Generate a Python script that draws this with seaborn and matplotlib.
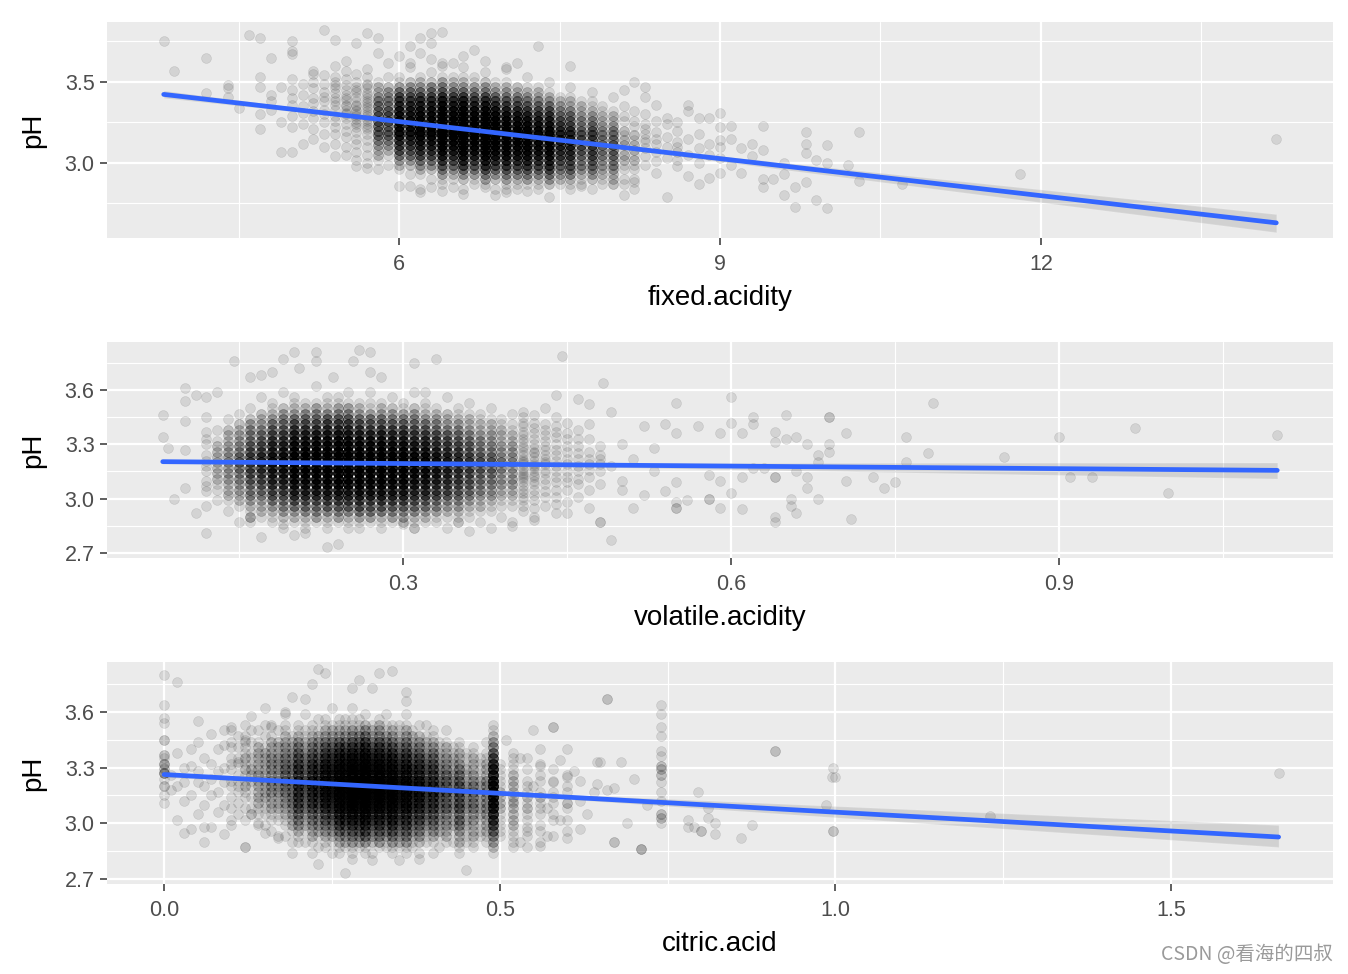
import numpy as np
import pandas as pd
import matplotlib
matplotlib.use('Agg')
import matplotlib.pyplot as plt
import seaborn as sns

# pH levels used for the binned (dense) part of every panel, high to low
ph_levels = [3.62, 3.59, 3.56, 3.53, 3.50, 3.47, 3.44, 3.41, 3.38, 3.35, 3.32, 3.29, 3.26, 3.23,
             3.20, 3.17, 3.14, 3.11, 3.08, 3.05, 3.02, 2.99, 2.96, 2.93, 2.90, 2.87, 2.84]

# ---- fixed.acidity vs pH: counts per (fixed.acidity, pH level) in the dense cloud ----
fa_cols = [5.8, 5.9, 6.0, 6.1, 6.2, 6.3, 6.4, 6.5, 6.6, 6.7, 6.8, 6.9, 7.0,
           7.1, 7.2, 7.3, 7.4, 7.5, 7.6, 7.7, 7.8, 7.9, 8.0, 8.1, 8.2]
fa_counts = [
    [0, 0, 0, 0, 1, 2, 2, 3, 4, 5, 5, 6, 6, 6, 5, 5, 4, 3, 2, 2, 1, 0, 0, 0, 0, 0, 0],
    [0, 0, 0, 1, 0, 2, 3, 3, 4, 4, 6, 6, 6, 5, 5, 5, 4, 3, 2, 1, 0, 1, 0, 0, 0, 0, 0],
    [0, 0, 0, 1, 1, 3, 5, 7, 8, 10, 12, 13, 14, 14, 13, 12, 10, 8, 7, 5, 3, 2, 1, 0, 0, 0, 0],
    [0, 1, 0, 0, 2, 3, 5, 6, 8, 10, 11, 12, 13, 13, 12, 11, 10, 8, 6, 5, 3, 2, 0, 1, 0, 0, 0],
    [0, 0, 0, 1, 2, 3, 5, 7, 9, 11, 13, 15, 16, 16, 16, 15, 13, 11, 9, 7, 5, 3, 2, 1, 0, 0, 1],
    [0, 0, 1, 0, 2, 4, 5, 7, 9, 11, 13, 14, 16, 17, 16, 15, 13, 11, 9, 7, 5, 3, 2, 0, 1, 0, 0],
    [1, 0, 0, 1, 3, 4, 6, 9, 12, 15, 18, 21, 24, 25, 25, 24, 21, 18, 15, 12, 9, 6, 4, 3, 1, 1, 0],
    [0, 0, 0, 1, 2, 3, 5, 7, 9, 12, 14, 16, 18, 19, 19, 18, 16, 14, 12, 9, 7, 5, 3, 2, 1, 0, 0],
    [0, 1, 0, 1, 2, 3, 5, 8, 11, 14, 17, 21, 23, 25, 26, 25, 23, 21, 17, 14, 11, 8, 5, 3, 2, 0, 1],
    [0, 0, 0, 1, 1, 3, 4, 6, 8, 11, 14, 16, 18, 20, 20, 20, 18, 16, 14, 11, 8, 6, 4, 3, 1, 1, 0],
    [0, 0, 1, 0, 2, 3, 4, 7, 9, 13, 16, 20, 23, 25, 27, 27, 25, 23, 20, 16, 13, 9, 7, 4, 3, 1, 0],
    [0, 0, 0, 0, 1, 2, 3, 5, 7, 10, 13, 15, 18, 20, 21, 21, 20, 18, 15, 13, 10, 7, 5, 3, 2, 0, 1],
    [0, 1, 0, 0, 1, 2, 3, 4, 6, 8, 11, 14, 16, 18, 20, 20, 20, 18, 16, 14, 11, 8, 6, 4, 3, 1, 1],
    [0, 0, 0, 0, 0, 2, 2, 4, 5, 7, 10, 12, 14, 16, 18, 18, 18, 16, 14, 12, 10, 7, 5, 4, 2, 1, 1],
    [0, 0, 0, 1, 0, 1, 2, 3, 4, 6, 8, 11, 13, 15, 17, 17, 17, 17, 15, 13, 11, 8, 6, 4, 3, 1, 0],
    [0, 0, 0, 0, 0, 1, 2, 2, 4, 5, 7, 9, 11, 13, 14, 15, 15, 14, 13, 11, 9, 7, 5, 4, 2, 1, 1],
    [0, 0, 0, 0, 1, 0, 1, 2, 3, 5, 7, 9, 11, 13, 15, 16, 17, 16, 15, 13, 11, 9, 7, 5, 3, 2, 0],
    [0, 0, 0, 0, 0, 0, 0, 1, 2, 3, 4, 5, 7, 8, 9, 10, 10, 10, 9, 8, 7, 5, 4, 3, 2, 1, 0],
    [0, 0, 0, 0, 0, 1, 0, 1, 2, 2, 4, 5, 6, 7, 9, 9, 10, 10, 9, 9, 7, 6, 5, 4, 2, 1, 1],
    [0, 0, 0, 0, 0, 0, 0, 0, 1, 2, 2, 3, 4, 4, 5, 6, 6, 6, 6, 5, 4, 4, 3, 2, 1, 1, 0],
    [0, 0, 0, 0, 0, 0, 1, 0, 1, 1, 2, 3, 4, 5, 6, 7, 7, 7, 7, 7, 6, 5, 4, 3, 2, 0, 1],
    [0, 0, 0, 0, 0, 0, 0, 0, 0, 1, 1, 2, 2, 3, 3, 4, 4, 4, 4, 4, 3, 3, 2, 2, 1, 1, 0],
    [0, 0, 0, 0, 0, 0, 0, 1, 0, 0, 1, 2, 2, 3, 4, 4, 5, 5, 5, 5, 4, 4, 3, 2, 2, 1, 0],
    [0, 0, 0, 0, 0, 0, 0, 0, 0, 1, 0, 1, 1, 0, 2, 1, 2, 2, 1, 2, 2, 1, 1, 0, 1, 1, 0],
    [0, 0, 0, 0, 0, 0, 0, 0, 0, 0, 1, 0, 1, 1, 0, 2, 1, 2, 2, 1, 2, 1, 1, 0, 1, 0, 1],
]
# single wines around the cloud
fa_single_x = [
    3.8, 3.9, 4.2, 4.2, 4.4, 4.4, 4.4, 4.5, 4.6, 4.7, 4.7, 4.7, 4.8, 4.7, 4.7,
    4.8, 4.8, 4.8, 4.9, 4.9, 4.9, 5.0, 5.0, 5.0, 5.0, 5.3, 5.4, 5.5, 5.4, 5.6,
    5.7, 5.8, 6.2, 6.3, 6.4, 6.3, 7.3, 5.6, 5.7, 5.8, 6.0, 6.1, 6.3, 6.5, 6.8,
    6.9, 7.4, 7.6, 8.2, 8.3, 8.7, 9.0, 8.8, 8.6, 8.5, 9.1, 9.4, 9.8, 9.8, 10.0,
    10.3, 9.8, 9.9, 10.0, 10.2, 10.3, 10.7, 9.7, 9.8, 9.6, 9.7, 9.9, 10.0, 9.4, 9.4,
    9.5, 9.6, 9.6, 9.2, 9.2, 9.0, 8.9, 8.8, 8.5, 8.1, 11.8, 14.2,
    5.9, 6.0, 6.1, 6.2, 6.3, 6.4, 6.5, 6.6, 6.8, 7.0, 7.1, 6.7, 6.1, 5.8,
    6.2, 6.4, 6.6, 7.0, 7.2, 7.7, 8.0, 8.1, 8.3, 8.4, 8.7, 8.9, 9.0, 8.6,
    8.9, 9.1, 9.3, 9.1, 8.7, 8.4, 8.2, 9.3, 9.4, 9.0,
    5.0, 5.0, 5.0, 5.0, 5.0, 5.0,
    5.1, 5.1, 5.1, 5.1, 5.1, 5.1,
    5.2, 5.2, 5.2, 5.2, 5.2, 5.2, 5.2, 5.2, 5.2, 5.2,
    5.3, 5.3, 5.3, 5.3, 5.3, 5.3, 5.3, 5.3, 5.3, 5.3,
    5.4, 5.4, 5.4, 5.4, 5.4, 5.4, 5.4, 5.4, 5.4, 5.4, 5.4, 5.4, 5.4, 5.4, 5.4,
    5.5, 5.5, 5.5, 5.5, 5.5, 5.5, 5.5, 5.5, 5.5, 5.5, 5.5, 5.5, 5.5, 5.5, 5.5, 5.5, 5.5, 5.5,
    5.6, 5.6, 5.6, 5.6, 5.6, 5.6, 5.6, 5.6, 5.6, 5.6, 5.6, 5.6, 5.6, 5.6, 5.6, 5.6, 5.6, 5.6,
    5.6, 5.6, 5.6, 5.6,
    5.7, 5.7, 5.7, 5.7, 5.7, 5.7, 5.7, 5.7, 5.7, 5.7, 5.7, 5.7, 5.7, 5.7, 5.7, 5.7, 5.7, 5.7,
    5.7, 5.7, 5.7, 5.7, 5.7, 5.7, 5.7,
    8.3, 8.3, 8.3, 8.3, 8.3, 8.3, 8.3, 8.3, 8.3,
    8.4, 8.4, 8.4, 8.4, 8.4, 8.4,
    8.5, 8.5, 8.5, 8.5,
    8.6, 8.6, 8.6, 8.6, 8.6,
    8.7, 8.7,
    8.8, 8.8, 8.8,
    8.9,
    9.0, 9.0,
]
fa_single_ph = [
    3.75, 3.57, 3.65, 3.43, 3.48, 3.46, 3.41, 3.34, 3.79, 3.77, 3.53, 3.47, 3.65, 3.21, 3.30,
    3.42, 3.38, 3.33, 3.47, 3.25, 3.07, 3.07, 3.75, 3.69, 3.67, 3.82, 3.76, 3.63, 3.04, 3.74,
    3.80, 3.77, 3.77, 3.80, 3.81, 3.74, 3.72, 2.98, 2.97, 2.96, 2.86, 2.86, 2.85, 2.85, 2.85,
    2.80, 2.79, 3.60, 3.50, 3.47, 3.36, 3.31, 3.28, 3.25, 3.28, 3.23, 3.23, 3.19, 3.12, 3.11,
    3.19, 3.06, 3.02, 3.00, 2.99, 2.89, 2.87, 2.85, 2.88, 2.80, 2.73, 2.77, 2.72, 2.90, 2.85,
    2.90, 3.00, 2.93, 3.09, 2.94, 2.94, 2.91, 2.87, 2.79, 2.80, 2.93, 3.15,
    3.62, 3.66, 3.62, 3.68, 3.64, 3.60, 3.62, 3.66, 3.63, 3.58, 3.62, 3.70, 3.72, 3.68,
    2.82, 2.83, 2.81, 2.82, 2.83, 2.86, 2.87, 3.45, 3.41, 3.36, 3.32, 3.28, 3.22, 3.02,
    3.05, 3.15, 3.12, 2.99, 2.92, 2.94, 2.88, 3.04, 3.08, 3.10,
    3.52, 3.45, 3.40, 3.36, 3.29, 3.22,
    3.49, 3.42, 3.35, 3.31, 3.24, 3.12,
    3.57, 3.50, 3.46, 3.40, 3.37, 3.32, 3.28, 3.21, 3.15, 3.55,
    3.54, 3.49, 3.44, 3.41, 3.38, 3.33, 3.30, 3.25, 3.18, 3.10,
    3.60, 3.53, 3.50, 3.46, 3.43, 3.40, 3.36, 3.33, 3.29, 3.26, 3.22, 3.18, 3.12, 3.48, 3.38,
    3.57, 3.52, 3.48, 3.45, 3.42, 3.39, 3.36, 3.33, 3.30, 3.28, 3.24, 3.20, 3.16, 3.10, 3.05, 3.40, 3.35, 3.31,
    3.55, 3.50, 3.47, 3.44, 3.41, 3.38, 3.35, 3.33, 3.30, 3.27, 3.25, 3.22, 3.19, 3.15, 3.12, 3.07, 3.02, 3.36,
    3.29, 3.24, 3.45, 3.32,
    3.58, 3.53, 3.49, 3.46, 3.43, 3.40, 3.37, 3.35, 3.32, 3.29, 3.27, 3.24, 3.21, 3.18, 3.14, 3.10, 3.05, 3.00,
    3.38, 3.30, 3.26, 3.34, 3.22, 3.42, 3.48,
    3.30, 3.24, 3.18, 3.13, 3.09, 3.04, 2.99, 3.21, 3.15,
    3.26, 3.19, 3.12, 3.07, 3.01, 3.15,
    3.24, 3.16, 3.10, 3.03,
    3.20, 3.13, 3.07, 2.98, 3.10,
    3.15, 3.05,
    3.18, 3.09, 3.00,
    3.12,
    3.14, 3.03,
]

# ---- volatile.acidity vs pH ----
va_cols = [0.13, 0.14, 0.15, 0.16, 0.17, 0.18, 0.19, 0.20, 0.21, 0.22, 0.23, 0.24, 0.25, 0.26,
           0.27, 0.28, 0.29, 0.30, 0.31, 0.32, 0.33, 0.34, 0.35, 0.36, 0.37, 0.38, 0.39, 0.40]
va_counts = [
    [0, 0, 0, 0, 0, 0, 0, 0, 1, 0, 1, 2, 2, 2, 2, 2, 2, 2, 1, 1, 0, 1, 0, 0, 0, 0, 0],
    [0, 0, 0, 0, 0, 0, 1, 0, 2, 2, 2, 3, 3, 3, 3, 3, 3, 3, 2, 2, 2, 1, 0, 1, 0, 0, 0],
    [0, 0, 0, 0, 0, 1, 0, 2, 2, 3, 3, 4, 4, 5, 5, 5, 4, 4, 3, 3, 2, 2, 1, 0, 0, 1, 0],
    [0, 0, 0, 0, 1, 0, 2, 3, 4, 4, 5, 6, 7, 7, 7, 7, 7, 6, 5, 4, 4, 3, 2, 1, 0, 1, 0],
    [0, 0, 1, 0, 0, 2, 2, 3, 4, 5, 6, 7, 8, 9, 9, 9, 8, 7, 6, 5, 4, 3, 2, 2, 1, 0, 0],
    [0, 0, 0, 1, 1, 2, 3, 5, 6, 7, 9, 10, 11, 12, 12, 12, 11, 10, 9, 7, 6, 5, 3, 2, 1, 1, 0],
    [0, 1, 0, 0, 2, 3, 4, 5, 6, 8, 9, 11, 12, 13, 13, 13, 12, 11, 9, 8, 6, 5, 4, 3, 2, 0, 1],
    [0, 0, 1, 1, 2, 3, 5, 7, 9, 11, 13, 15, 16, 17, 18, 17, 16, 15, 13, 11, 9, 7, 5, 3, 2, 1, 0],
    [0, 0, 0, 1, 2, 4, 5, 7, 9, 11, 13, 15, 17, 18, 18, 18, 17, 15, 13, 11, 9, 7, 5, 4, 2, 1, 1],
    [1, 0, 0, 1, 3, 4, 5, 7, 9, 12, 14, 16, 18, 19, 19, 19, 18, 16, 14, 12, 9, 7, 5, 4, 3, 1, 0],
    [0, 0, 1, 1, 2, 4, 6, 8, 10, 12, 15, 17, 19, 20, 20, 20, 19, 17, 15, 12, 10, 8, 6, 4, 2, 1, 1],
    [0, 0, 1, 1, 3, 4, 6, 8, 10, 13, 15, 17, 19, 20, 21, 20, 19, 17, 15, 13, 10, 8, 6, 4, 3, 1, 0],
    [0, 1, 0, 1, 3, 4, 6, 8, 10, 12, 15, 17, 18, 20, 21, 20, 19, 17, 15, 12, 10, 8, 6, 4, 2, 1, 1],
    [0, 0, 0, 1, 2, 3, 5, 7, 9, 11, 14, 16, 18, 20, 21, 21, 20, 18, 16, 14, 11, 9, 7, 5, 3, 1, 1],
    [0, 1, 0, 1, 1, 3, 5, 6, 8, 11, 13, 15, 17, 18, 19, 19, 18, 17, 15, 13, 11, 8, 6, 5, 3, 1, 0],
    [0, 0, 0, 1, 2, 3, 5, 6, 9, 11, 13, 16, 18, 19, 20, 20, 19, 18, 16, 13, 11, 9, 6, 5, 2, 1, 1],
    [0, 0, 1, 0, 2, 3, 4, 6, 8, 10, 12, 14, 16, 17, 18, 18, 17, 16, 14, 12, 10, 8, 6, 4, 3, 1, 0],
    [0, 0, 0, 1, 1, 3, 4, 6, 8, 10, 12, 14, 16, 18, 18, 18, 17, 16, 14, 12, 10, 8, 6, 4, 3, 2, 0],
    [0, 1, 0, 0, 2, 3, 4, 5, 7, 8, 10, 12, 13, 15, 15, 15, 15, 13, 12, 10, 8, 7, 5, 4, 2, 1, 1],
    [0, 0, 0, 1, 1, 2, 3, 5, 6, 8, 10, 11, 13, 14, 14, 14, 14, 13, 11, 10, 8, 6, 5, 3, 2, 1, 0],
    [0, 0, 0, 0, 1, 2, 3, 4, 5, 7, 8, 9, 11, 12, 12, 12, 12, 11, 9, 8, 7, 5, 4, 3, 1, 1, 0],
    [0, 0, 1, 0, 0, 2, 2, 3, 4, 6, 7, 8, 9, 10, 10, 10, 10, 9, 8, 7, 6, 4, 3, 2, 1, 0, 1],
    [0, 0, 0, 0, 1, 1, 2, 3, 4, 5, 6, 7, 8, 8, 9, 9, 8, 8, 7, 6, 5, 4, 3, 2, 1, 1, 0],
    [0, 0, 0, 1, 0, 1, 2, 2, 3, 4, 5, 6, 6, 7, 7, 7, 7, 6, 6, 5, 4, 3, 2, 1, 1, 0, 0],
    [0, 0, 0, 0, 0, 1, 1, 2, 2, 3, 4, 4, 5, 5, 6, 6, 5, 5, 4, 4, 3, 2, 2, 1, 0, 1, 0],
    [0, 0, 0, 0, 1, 0, 1, 2, 2, 3, 3, 4, 4, 5, 5, 5, 5, 4, 4, 3, 3, 2, 1, 1, 0, 0, 1],
    [0, 0, 0, 0, 0, 0, 1, 1, 2, 2, 2, 3, 3, 3, 4, 4, 3, 3, 3, 2, 2, 1, 1, 0, 1, 0, 0],
    [0, 0, 0, 0, 0, 1, 0, 1, 1, 2, 2, 3, 3, 3, 3, 3, 3, 3, 3, 2, 2, 1, 1, 0, 0, 1, 0],
]
va_single_x = [
    0.08, 0.08, 0.085, 0.09, 0.10, 0.10, 0.10, 0.11, 0.12, 0.10, 0.10, 0.11, 0.12, 0.13, 0.145,
    0.16, 0.17, 0.18, 0.19, 0.20, 0.205, 0.22, 0.22, 0.236, 0.26, 0.27, 0.254, 0.28, 0.27, 0.31,
    0.33, 0.32, 0.16, 0.16, 0.16, 0.17, 0.19, 0.20, 0.21, 0.23, 0.24, 0.30, 0.31, 0.35, 0.36,
    0.40, 0.42,
    0.445, 0.483, 0.44, 0.55, 0.60, 0.785, 0.65, 0.62, 0.62, 0.69, 0.69, 0.705, 0.76, 0.78, 0.76,
    0.57, 0.54, 0.55, 0.59, 0.60, 0.61, 0.64, 0.64, 0.65, 0.66, 0.67, 0.69, 0.69, 0.68, 0.68,
    0.705, 0.73, 0.74, 0.75, 0.68, 0.655, 0.655, 0.66, 0.64, 0.64, 0.71, 0.67, 0.67, 0.66, 0.64,
    0.64, 0.61, 0.59, 0.60, 0.58, 0.58, 0.55, 0.55, 0.55, 0.56, 0.59, 0.58, 0.61, 0.62, 0.63,
    0.48, 0.48, 0.49, 0.54, 0.55,
    0.85, 0.90, 0.91, 0.93, 0.97, 1.00, 1.10,
    0.49, 0.50, 0.51, 0.52, 0.53, 0.50, 0.52, 0.47, 0.46, 0.51, 0.53, 0.49, 0.50, 0.45, 0.47,
    0.12, 0.12, 0.12, 0.12, 0.12, 0.12, 0.12, 0.12, 0.12, 0.12, 0.12, 0.12,
    0.41, 0.41, 0.41, 0.41, 0.41, 0.41, 0.41, 0.41, 0.41, 0.41, 0.41, 0.41, 0.41, 0.41, 0.41,
    0.41, 0.41, 0.41, 0.41, 0.41, 0.41, 0.41, 0.41, 0.41, 0.41, 0.41, 0.41, 0.41, 0.41, 0.41,
    0.42, 0.42, 0.42, 0.42, 0.42, 0.42, 0.42, 0.42, 0.42, 0.42, 0.42, 0.42,
    0.42, 0.42, 0.42, 0.42, 0.42, 0.42, 0.42, 0.42, 0.42, 0.42, 0.42, 0.42,
    0.43, 0.43, 0.43, 0.43, 0.43, 0.43, 0.43, 0.43, 0.43, 0.43, 0.43, 0.43, 0.43, 0.43, 0.43,
    0.43, 0.43, 0.43,
    0.44, 0.44, 0.44, 0.44, 0.44, 0.44, 0.44, 0.44, 0.44, 0.44, 0.44, 0.44, 0.44, 0.44, 0.44,
    0.44,
    0.45, 0.45, 0.45, 0.45, 0.45, 0.45, 0.45, 0.45, 0.45, 0.45, 0.45, 0.45,
    0.46, 0.46, 0.46, 0.46, 0.46, 0.46, 0.46, 0.46, 0.46, 0.46,
    0.47, 0.47, 0.47, 0.47, 0.47, 0.47, 0.47, 0.47,
    0.48, 0.48, 0.48, 0.48, 0.48, 0.48,
]
va_single_ph = [
    3.46, 3.34, 3.28, 3.00, 3.43, 3.27, 3.06, 2.92, 2.81, 3.61, 3.54, 3.57, 3.56, 3.59, 3.76,
    3.67, 3.68, 3.70, 3.77, 3.81, 3.72, 3.81, 3.76, 3.67, 3.82, 3.81, 3.76, 3.67, 3.70, 3.75,
    3.77, 3.59, 2.90, 2.90, 2.90, 2.79, 2.86, 2.80, 2.81, 2.73, 2.75, 2.86, 2.84, 2.87, 2.82,
    2.85, 2.88,
    3.79, 3.64, 3.57, 3.53, 3.56, 3.53, 3.46, 3.45, 3.41, 3.45, 3.45, 3.36, 3.34, 3.25, 3.20,
    3.40, 3.41, 3.36, 3.36, 3.42, 3.36, 3.37, 3.31, 3.33, 3.34, 3.30, 3.30, 3.26, 3.24, 3.20,
    3.10, 3.12, 3.06, 3.09, 3.00, 3.00, 2.96, 2.92, 2.90, 2.87, 2.89, 3.12, 3.06, 3.15, 3.12,
    3.12, 2.94, 2.95, 3.03, 3.00, 3.00, 2.95, 2.95, 2.98, 2.99, 3.10, 3.13, 3.12, 3.17, 3.17,
    2.87, 2.87, 2.77, 3.04, 3.09,
    3.23, 3.34, 3.12, 3.12, 3.39, 3.03, 3.35,
    3.48, 3.30, 3.22, 3.40, 3.15, 3.10, 3.02, 3.52, 3.55, 2.95, 3.28, 3.18, 3.05, 2.92, 2.95,
    3.45, 3.37, 3.30, 3.24, 3.21, 3.15, 3.10, 3.04, 2.96, 3.33, 3.18, 3.07,
    3.48, 3.42, 3.37, 3.33, 3.29, 3.26, 3.22, 3.19, 3.16, 3.12, 3.09, 3.05, 3.01, 2.96, 3.24,
    3.14, 3.35, 3.20, 3.07, 2.99, 3.28, 3.11, 3.40, 3.17, 3.03, 3.31, 3.13, 3.21, 2.93, 3.45,
    3.46, 3.39, 3.33, 3.28, 3.23, 3.19, 3.15, 3.10, 3.05, 2.99, 3.25, 3.13,
    3.36, 3.21, 3.08, 2.95, 3.30, 3.17, 3.02, 3.42, 3.12, 3.26, 3.18, 2.90,
    3.50, 3.41, 3.35, 3.29, 3.24, 3.19, 3.14, 3.08, 3.01, 3.22, 3.32, 3.11, 3.04, 3.27, 3.16,
    2.96, 3.38, 3.20,
    3.45, 3.37, 3.30, 3.24, 3.18, 3.12, 3.05, 2.97, 3.21, 3.34, 3.09, 3.27, 3.15, 3.40, 3.01,
    2.92,
    3.42, 3.33, 3.26, 3.19, 3.12, 3.05, 2.98, 3.22, 3.29, 3.15, 3.36, 3.09,
    3.38, 3.29, 3.22, 3.15, 3.08, 3.01, 3.25, 3.18, 3.33, 3.11,
    3.41, 3.33, 3.26, 3.19, 3.12, 3.05, 3.22, 3.16,
    3.29, 3.22, 3.15, 3.08, 3.24, 3.19,
]

# ---- citric.acid vs pH ----
ca_cols = [0.10, 0.11, 0.12, 0.13, 0.14, 0.15, 0.16, 0.17, 0.18, 0.19, 0.20, 0.21, 0.22, 0.23,
           0.24, 0.25, 0.26, 0.27, 0.28, 0.29, 0.30, 0.31, 0.32, 0.33, 0.34, 0.35, 0.36, 0.37,
           0.38, 0.39, 0.40, 0.41, 0.42, 0.43, 0.44, 0.45, 0.46, 0.47, 0.48, 0.49,
           0.50, 0.52, 0.54, 0.56, 0.58, 0.60]
ca_counts = [
    [0, 0, 0, 0, 1, 0, 1, 1, 0, 1, 1, 1, 0, 1, 1, 0, 1, 0, 1, 0, 0, 1, 0, 0, 0, 0, 0],
    [0, 0, 0, 0, 0, 1, 0, 1, 0, 1, 1, 0, 1, 1, 0, 1, 0, 1, 0, 1, 0, 0, 0, 0, 0, 0, 0],
    [0, 0, 0, 1, 0, 1, 1, 1, 1, 2, 1, 2, 1, 1, 2, 1, 1, 0, 1, 0, 1, 0, 0, 0, 0, 0, 0],
    [0, 0, 0, 0, 1, 0, 1, 0, 1, 1, 1, 2, 2, 1, 1, 0, 1, 0, 1, 1, 0, 0, 0, 0, 0, 0, 0],
    [0, 0, 0, 0, 1, 0, 1, 2, 2, 2, 2, 2, 3, 2, 2, 2, 2, 2, 1, 1, 0, 1, 0, 0, 0, 0, 0],
    [0, 0, 0, 1, 0, 1, 0, 1, 2, 2, 2, 2, 2, 2, 2, 2, 2, 1, 1, 1, 0, 1, 0, 0, 0, 0, 0],
    [0, 0, 0, 1, 0, 1, 2, 2, 2, 3, 3, 3, 3, 3, 3, 3, 2, 2, 2, 1, 1, 0, 1, 0, 0, 0, 0],
    [0, 0, 0, 0, 1, 0, 2, 2, 2, 3, 3, 3, 3, 3, 3, 3, 2, 2, 2, 1, 1, 0, 0, 1, 0, 0, 0],
    [0, 1, 0, 1, 1, 2, 2, 3, 3, 4, 4, 5, 5, 5, 4, 4, 3, 3, 2, 2, 1, 1, 0, 1, 0, 0, 0],
    [0, 0, 0, 0, 0, 1, 2, 2, 3, 3, 4, 4, 4, 4, 4, 4, 4, 4, 3, 3, 2, 2, 1, 0, 1, 0, 0],
    [0, 0, 0, 1, 1, 2, 3, 4, 5, 6, 7, 8, 8, 9, 9, 8, 8, 7, 6, 5, 4, 3, 2, 1, 1, 0, 0],
    [0, 1, 0, 0, 1, 1, 2, 2, 3, 4, 4, 5, 5, 6, 6, 5, 5, 4, 4, 3, 2, 2, 1, 0, 1, 0, 0],
    [0, 0, 0, 1, 1, 2, 3, 4, 5, 6, 8, 8, 9, 10, 10, 9, 8, 8, 6, 5, 4, 3, 2, 2, 1, 0, 1],
    [0, 0, 1, 0, 1, 2, 3, 3, 4, 5, 6, 7, 8, 8, 8, 8, 7, 6, 5, 4, 3, 3, 2, 1, 0, 1, 0],
    [0, 0, 1, 1, 2, 3, 4, 6, 7, 9, 11, 12, 13, 14, 14, 13, 12, 11, 9, 7, 6, 4, 3, 2, 1, 1, 0],
    [1, 0, 0, 1, 2, 3, 4, 5, 7, 8, 9, 11, 12, 12, 12, 12, 11, 9, 8, 7, 5, 4, 3, 2, 1, 0, 1],
    [0, 0, 1, 1, 2, 3, 5, 7, 9, 11, 13, 15, 16, 17, 18, 17, 16, 15, 13, 11, 9, 7, 5, 3, 2, 1, 1],
    [0, 0, 1, 1, 2, 3, 4, 6, 8, 10, 12, 13, 15, 16, 16, 16, 15, 13, 12, 10, 8, 6, 4, 3, 2, 1, 0],
    [1, 0, 1, 1, 3, 4, 6, 8, 11, 14, 16, 19, 21, 22, 22, 22, 21, 19, 16, 14, 11, 8, 6, 4, 3, 1, 1],
    [0, 0, 1, 1, 2, 4, 5, 7, 9, 11, 13, 15, 17, 18, 18, 18, 17, 15, 13, 11, 9, 7, 5, 4, 2, 1, 0],
    [0, 1, 0, 2, 3, 5, 7, 9, 12, 15, 17, 20, 22, 24, 24, 24, 22, 20, 17, 15, 12, 9, 7, 5, 3, 1, 1],
    [0, 0, 0, 1, 2, 3, 4, 6, 8, 10, 12, 13, 15, 16, 16, 16, 15, 13, 12, 10, 8, 6, 4, 3, 2, 0, 1],
    [0, 0, 1, 2, 3, 4, 6, 8, 10, 12, 15, 17, 19, 20, 20, 20, 19, 17, 15, 12, 10, 8, 6, 4, 3, 1, 0],
    [0, 1, 0, 1, 1, 3, 4, 5, 7, 9, 10, 12, 13, 14, 14, 14, 13, 12, 10, 9, 7, 5, 4, 3, 1, 1, 0],
    [0, 0, 0, 1, 2, 3, 4, 6, 8, 10, 12, 14, 16, 18, 18, 18, 18, 16, 14, 12, 10, 8, 6, 4, 3, 1, 1],
    [0, 0, 0, 1, 1, 2, 3, 4, 5, 7, 8, 9, 11, 12, 12, 12, 12, 11, 9, 8, 7, 5, 4, 3, 2, 1, 0],
    [0, 1, 0, 1, 2, 3, 4, 5, 7, 8, 10, 12, 13, 15, 15, 15, 15, 13, 12, 10, 8, 7, 5, 4, 3, 1, 1],
    [0, 0, 0, 0, 1, 2, 2, 3, 4, 5, 6, 8, 8, 9, 10, 10, 9, 8, 8, 6, 5, 4, 3, 2, 1, 1, 0],
    [0, 0, 0, 1, 0, 2, 3, 4, 5, 7, 8, 9, 11, 12, 12, 12, 12, 11, 9, 8, 7, 5, 4, 3, 2, 0, 1],
    [0, 0, 0, 1, 0, 1, 2, 2, 3, 4, 5, 6, 6, 7, 7, 7, 7, 6, 6, 5, 4, 3, 2, 1, 1, 0, 0],
    [0, 0, 0, 0, 1, 1, 2, 3, 4, 5, 6, 7, 8, 8, 9, 9, 8, 8, 7, 6, 5, 4, 3, 2, 1, 0, 1],
    [0, 0, 0, 0, 0, 0, 1, 1, 2, 2, 3, 3, 4, 4, 5, 5, 5, 4, 4, 3, 3, 2, 2, 1, 0, 1, 0],
    [0, 0, 0, 0, 1, 0, 1, 2, 2, 3, 3, 4, 5, 5, 5, 6, 5, 5, 5, 4, 3, 3, 2, 2, 1, 0, 0],
    [0, 0, 0, 0, 0, 0, 0, 1, 1, 2, 2, 2, 3, 3, 3, 3, 3, 3, 3, 2, 2, 2, 1, 0, 1, 0, 0],
    [0, 0, 0, 0, 0, 0, 1, 1, 2, 2, 3, 4, 5, 5, 6, 6, 6, 6, 6, 5, 5, 4, 3, 2, 2, 1, 1],
    [0, 0, 0, 0, 0, 0, 0, 0, 1, 1, 1, 2, 2, 2, 3, 3, 3, 3, 3, 2, 2, 2, 1, 1, 1, 0, 0],
    [0, 0, 0, 0, 0, 0, 0, 1, 1, 2, 2, 2, 3, 3, 4, 4, 4, 4, 4, 3, 3, 2, 2, 2, 1, 1, 0],
    [0, 0, 0, 0, 0, 0, 0, 0, 0, 1, 1, 1, 1, 2, 2, 2, 2, 2, 2, 2, 1, 1, 1, 1, 0, 0, 0],
    [0, 0, 0, 0, 0, 0, 1, 0, 1, 1, 2, 2, 2, 3, 3, 3, 3, 3, 3, 3, 2, 2, 2, 1, 1, 0, 0],
    [0, 0, 0, 1, 1, 2, 3, 4, 6, 8, 10, 12, 13, 15, 16, 16, 16, 15, 13, 12, 10, 8, 6, 4, 3, 2, 1],
    [0, 0, 0, 0, 0, 0, 0, 0, 0, 0, 1, 1, 1, 1, 1, 2, 2, 2, 2, 1, 1, 1, 1, 1, 0, 0, 0],
    [0, 0, 0, 0, 0, 0, 0, 0, 1, 1, 1, 1, 2, 2, 2, 2, 2, 2, 2, 2, 2, 2, 1, 1, 1, 1, 0],
    [0, 0, 0, 0, 0, 0, 0, 0, 0, 1, 0, 1, 0, 1, 1, 1, 2, 1, 2, 1, 1, 0, 1, 1, 0, 1, 0],
    [0, 0, 0, 0, 0, 0, 0, 0, 0, 0, 1, 0, 1, 1, 0, 1, 2, 1, 1, 1, 0, 1, 1, 0, 1, 0, 0],
    [0, 0, 0, 0, 0, 0, 0, 0, 0, 0, 0, 1, 0, 1, 0, 1, 1, 1, 0, 1, 1, 0, 0, 1, 0, 0, 0],
    [0, 0, 0, 0, 0, 0, 0, 0, 0, 0, 0, 0, 1, 0, 1, 1, 0, 2, 1, 0, 1, 0, 1, 0, 0, 0, 0],
]
ca_single_x = [
    0.0, 0.0, 0.0, 0.0, 0.0, 0.0, 0.0, 0.0, 0.0, 0.0, 0.0, 0.0, 0.0, 0.0, 0.0,
    0.0, 0.0, 0.0, 0.0, 0.0, 0.0, 0.0, 0.0,
    0.02, 0.06, 0.07, 0.09, 0.12, 0.12, 0.10, 0.19, 0.21, 0.22, 0.23, 0.24, 0.29, 0.31, 0.32,
    0.34, 0.36, 0.36, 0.28, 0.27, 0.23, 0.28, 0.31, 0.35, 0.38, 0.45, 0.19,
    0.66, 0.66, 0.58, 0.58, 0.60, 0.59, 0.645, 0.65, 0.68, 0.60, 0.62, 0.56, 0.645, 0.67, 0.66,
    0.64, 0.91, 0.91, 0.795, 0.81, 0.81, 0.78, 0.78, 0.79, 0.80, 0.80, 0.82, 0.82, 0.86, 0.875,
    0.986, 0.997, 0.995, 1.0, 0.997, 0.997, 0.67, 0.67, 0.71, 0.71, 0.71, 0.62, 0.60, 0.57, 0.56,
    1.23, 1.66,
    0.74, 0.74, 0.74, 0.74, 0.74, 0.74, 0.74, 0.74, 0.74, 0.74, 0.74, 0.74, 0.74, 0.74, 0.74,
    0.74, 0.74, 0.74, 0.74, 0.74,
    0.02, 0.03, 0.03, 0.04, 0.05, 0.05, 0.06, 0.07, 0.07, 0.08, 0.09, 0.09, 0.10, 0.11, 0.11,
    0.12, 0.13, 0.13, 0.14, 0.15, 0.15, 0.16, 0.17, 0.18, 0.02, 0.04,
    0.01, 0.01, 0.02, 0.03, 0.04, 0.04, 0.05, 0.05, 0.06, 0.06, 0.07, 0.07, 0.08, 0.08, 0.08,
    0.09, 0.09, 0.09, 0.03, 0.06, 0.05,
    0.51, 0.52, 0.53, 0.54, 0.55, 0.56, 0.57, 0.58, 0.59, 0.61, 0.53, 0.55, 0.63, 0.62, 0.70,
    0.72, 0.69,
]
ca_single_ph = [
    3.80, 3.64, 3.57, 3.54, 3.45, 3.45, 3.37, 3.37, 3.32, 3.32, 3.32, 3.27, 3.27, 3.27, 3.27,
    3.20, 3.20, 3.15, 3.11, 3.30, 3.35, 3.29, 3.24,
    3.76, 2.98, 2.98, 2.94, 2.87, 2.87, 3.02, 3.68, 3.67, 3.75, 3.83, 3.81, 3.77, 3.73, 3.81,
    3.82, 3.71, 3.66, 3.73, 2.73, 2.78, 2.81, 2.80, 2.80, 2.81, 2.75, 2.84,
    3.67, 3.67, 3.52, 3.52, 3.40, 3.34, 3.33, 3.33, 3.33, 3.25, 3.23, 3.31, 3.21, 3.19, 3.18,
    3.17, 3.39, 3.39, 3.17, 3.08, 3.03, 3.02, 2.98, 2.98, 2.96, 2.96, 3.00, 2.94, 2.92, 2.99,
    3.10, 3.30, 3.25, 3.25, 2.96, 2.96, 2.90, 2.90, 2.86, 2.86, 2.86, 2.97, 2.92, 2.93, 2.88,
    3.04, 3.27,
    3.64, 3.59, 3.52, 3.47, 3.39, 3.36, 3.31, 3.31, 3.29, 3.29, 3.26, 3.26, 3.22, 3.17, 3.12,
    3.05, 3.05, 3.03, 3.03, 3.00,
    3.20, 3.30, 3.12, 3.40, 3.22, 3.05, 3.35, 3.48, 3.15, 3.28, 3.42, 3.10, 3.52, 3.33, 3.20,
    3.45, 3.05, 3.58, 3.00, 3.62, 2.95, 3.52, 2.92, 3.60, 3.02, 2.97,
    3.26, 3.18, 3.38, 3.22, 3.15, 3.31, 3.44, 3.28, 3.20, 3.10, 3.32, 3.24, 3.40, 3.17, 3.06,
    3.30, 3.22, 3.50, 2.95, 2.90, 3.55,
    3.45, 3.12, 3.35, 2.98, 3.20, 3.40, 3.08, 3.22, 3.02, 3.28, 2.90, 3.50, 3.05, 3.12, 3.24,
    3.10, 3.00,
]

xlabels = ['fixed.acidity', 'volatile.acidity', 'citric.acid']


def wine_frame(cols, counts, sx, sph):
    counts = np.asarray(counts)
    assert counts.shape == (len(cols), len(ph_levels)), counts.shape
    gx = np.repeat(cols, len(ph_levels))
    gy = np.tile(ph_levels, len(cols))
    n = counts.ravel()
    binned = pd.DataFrame({'x': np.repeat(gx, n), 'pH': np.repeat(gy, n)})
    single = pd.DataFrame({'x': sx, 'pH': sph})
    return pd.concat([binned, single], ignore_index=True)


frames = [
    wine_frame(fa_cols, fa_counts, fa_single_x, fa_single_ph),
    wine_frame(va_cols, va_counts, va_single_x, va_single_ph),
    wine_frame(ca_cols, ca_counts, ca_single_x, ca_single_ph),
]

sns.set_style('darkgrid', {'axes.facecolor': '#EBEBEB', 'grid.color': 'white'})
plt.rcParams['font.family'] = ['Liberation Sans', 'DejaVu Sans']

W, H = 1348, 974
fig = plt.figure(figsize=(W / 100, H / 100), dpi=100)

# panel boxes in pixels: (left, top, right, bottom)
boxes = [(107, 22, 1333, 238), (107, 342, 1333, 558), (107, 662, 1333, 884)]
xlims = [(3.27, 14.73), (0.029, 1.151), (-0.085, 1.741)]
ylims = [(2.537, 3.870), (2.672, 3.865), (2.673, 3.869)]
xticks = [[6, 9, 12], [0.3, 0.6, 0.9], [0.0, 0.5, 1.0, 1.5]]
xticklabels = [['6', '9', '12'], ['0.3', '0.6', '0.9'], ['0.0', '0.5', '1.0', '1.5']]
xminor = [[4.5, 7.5, 10.5, 13.5], [0.15, 0.45, 0.75, 1.05], [0.25, 0.75, 1.25]]
yticks = [[3.0, 3.5], [2.7, 3.0, 3.3, 3.6], [2.7, 3.0, 3.3, 3.6]]
yminor = [[2.75, 3.25, 3.75], [2.85, 3.15, 3.45, 3.75], [2.85, 3.15, 3.45, 3.75]]

for i, df in enumerate(frames):
    l, t, r, b = boxes[i]
    ax = fig.add_axes([l / W, 1 - b / H, (r - l) / W, (b - t) / H])
    sns.scatterplot(data=df, x='x', y='pH', ax=ax, color='black', alpha=0.1,
                    s=50, linewidth=0.5, edgecolor='black', zorder=2)
    # grey confidence ribbon, then the blue fit on top
    sns.regplot(data=df, x='x', y='pH', ax=ax, scatter=False, color='#404040',
                line_kws={'lw': 0}, seed=0, n_boot=300)
    sns.regplot(data=df, x='x', y='pH', ax=ax, scatter=False, ci=None,
                color='#3366FF', line_kws={'lw': 3.4, 'zorder': 4})
    ax.set_xlim(xlims[i])
    ax.set_ylim(ylims[i])
    ax.set_xticks(xticks[i])
    ax.set_xticklabels(xticklabels[i])
    ax.set_yticks(yticks[i])
    ax.set_yticklabels(['%.1f' % v for v in yticks[i]])
    ax.set_xticks(xminor[i], minor=True)
    ax.set_yticks(yminor[i], minor=True)
    ax.grid(which='major', color='white', lw=1.6)
    ax.grid(which='minor', color='white', lw=0.8)
    ax.set_axisbelow(True)
    for s in ax.spines.values():
        s.set_visible(False)
    ax.tick_params(which='major', length=5, width=1.1, color='#333333',
                   labelsize=15.5, labelcolor='#4D4D4D', pad=4,
                   bottom=True, left=True)
    ax.tick_params(axis='x', which='major', pad=6.5)
    ax.tick_params(which='minor', length=0)
    ax.set_xlabel(xlabels[i], fontsize=20, color='black')
    ax.set_ylabel('pH', fontsize=20, color='black')
    ax.xaxis.set_label_coords(0.5, -47 / (b - t))
    ax.yaxis.set_label_coords(-61 / (r - l), 0.5)

fig.text(1333 / W, 1 - 955 / H, 'CSDN @看海的四叔', ha='right', va='center',
         fontsize=14, color='#9A9A9A', family=['Noto Sans CJK SC', 'DejaVu Sans'])

fig.savefig('out.png', dpi=100)
